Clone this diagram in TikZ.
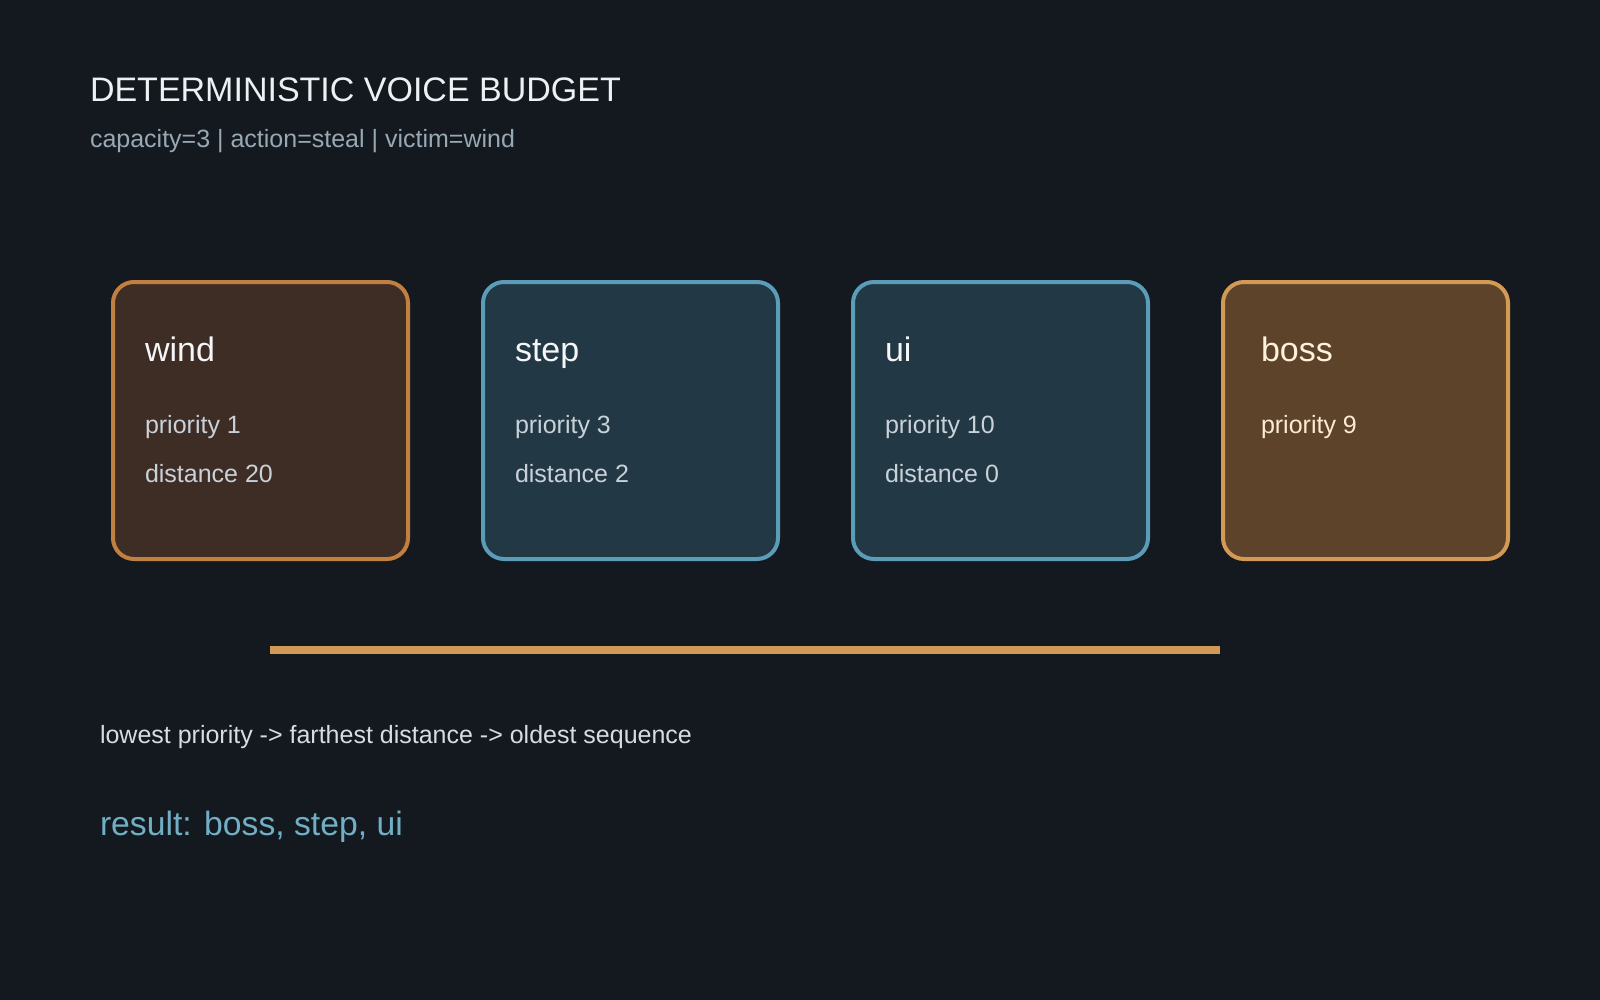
\documentclass[tikz,border=0pt]{standalone}
\usepackage{fontspec}
\setmainfont{Liberation Sans}
\definecolor{bg}{HTML}{13191E}
\definecolor{titlec}{HTML}{EEF1F3}
\definecolor{subc}{HTML}{98A8B4}
\definecolor{windfill}{HTML}{3E2D25}
\definecolor{windstroke}{HTML}{C17F40}
\definecolor{bluefill}{HTML}{223844}
\definecolor{bluestroke}{HTML}{5B9DB8}
\definecolor{bossfill}{HTML}{5E432B}
\definecolor{bossstroke}{HTML}{D49A55}
\definecolor{headc}{HTML}{F4F6F8}
\definecolor{bodyc}{HTML}{C9D2D9}
\definecolor{bosshead}{HTML}{FFF1DC}
\definecolor{bossbody}{HTML}{FCEBD2}
\definecolor{barc}{HTML}{D29A57}
\definecolor{notec}{HTML}{D6DDE2}
\definecolor{resultc}{HTML}{71AFC7}
\tikzset{
  txt/.style={anchor=base west, inner sep=0pt, outer sep=0pt},
  card/.style={line width=4pt, rounded corners=21pt},
  cardhead/.style={txt, font=\fontsize{34}{40}\selectfont},
  cardbody/.style={txt, font=\fontsize{25}{30}\selectfont},
}
\begin{document}
\begin{tikzpicture}[x=1pt, y=-1pt]
\fill[bg] (0,0) rectangle (1600,1000);
\useasboundingbox (0,0) rectangle (1600,1000);

\node[txt, text=titlec, font=\fontsize{34}{40}\selectfont] (title) at (90,102) {DETERMINISTIC VOICE BUDGET};
\node[txt, text=subc, font=\fontsize{25}{30}\selectfont] (subtitle) at (90,148) {capacity=3 | action=steal | victim=wind};

% cards
\draw[card, fill=windfill, draw=windstroke] (113,282) rectangle (408,559);
\node[cardhead, text=headc] (windh) at (145,361) {wind};
\node[cardbody, text=bodyc] (windp) at (145,433) {priority 1};
\node[cardbody, text=bodyc] (windd) at (145,482) {distance 20};

\draw[card, fill=bluefill, draw=bluestroke] (483,282) rectangle (778,559);
\node[cardhead, text=headc] (steph) at (515,361) {step};
\node[cardbody, text=bodyc] (stepp) at (515,433) {priority 3};
\node[cardbody, text=bodyc] (stepd) at (515,482) {distance 2};

\draw[card, fill=bluefill, draw=bluestroke] (853,282) rectangle (1148,559);
\node[cardhead, text=headc] (uih) at (885,361) {ui};
\node[cardbody, text=bodyc] (uip) at (885,433) {priority 10};
\node[cardbody, text=bodyc] (uid) at (885,482) {distance 0};

\draw[card, fill=bossfill, draw=bossstroke] (1223,282) rectangle (1508,559);
\node[cardhead, text=bosshead] (bossh) at (1261,361) {boss};
\node[cardbody, text=bossbody] (bossp) at (1261,433) {priority 9};

% bar
\fill[barc] (270,646) rectangle (1220,654);

\node[txt, text=notec, font=\fontsize{25}{30}\selectfont] (rule) at (100,743) {lowest priority -> farthest distance -> oldest sequence};
\node[txt, text=resultc, font=\fontsize{33.7}{40}\selectfont] (result) at (100,835) {result: boss, step, ui};
\end{tikzpicture}
\end{document}
